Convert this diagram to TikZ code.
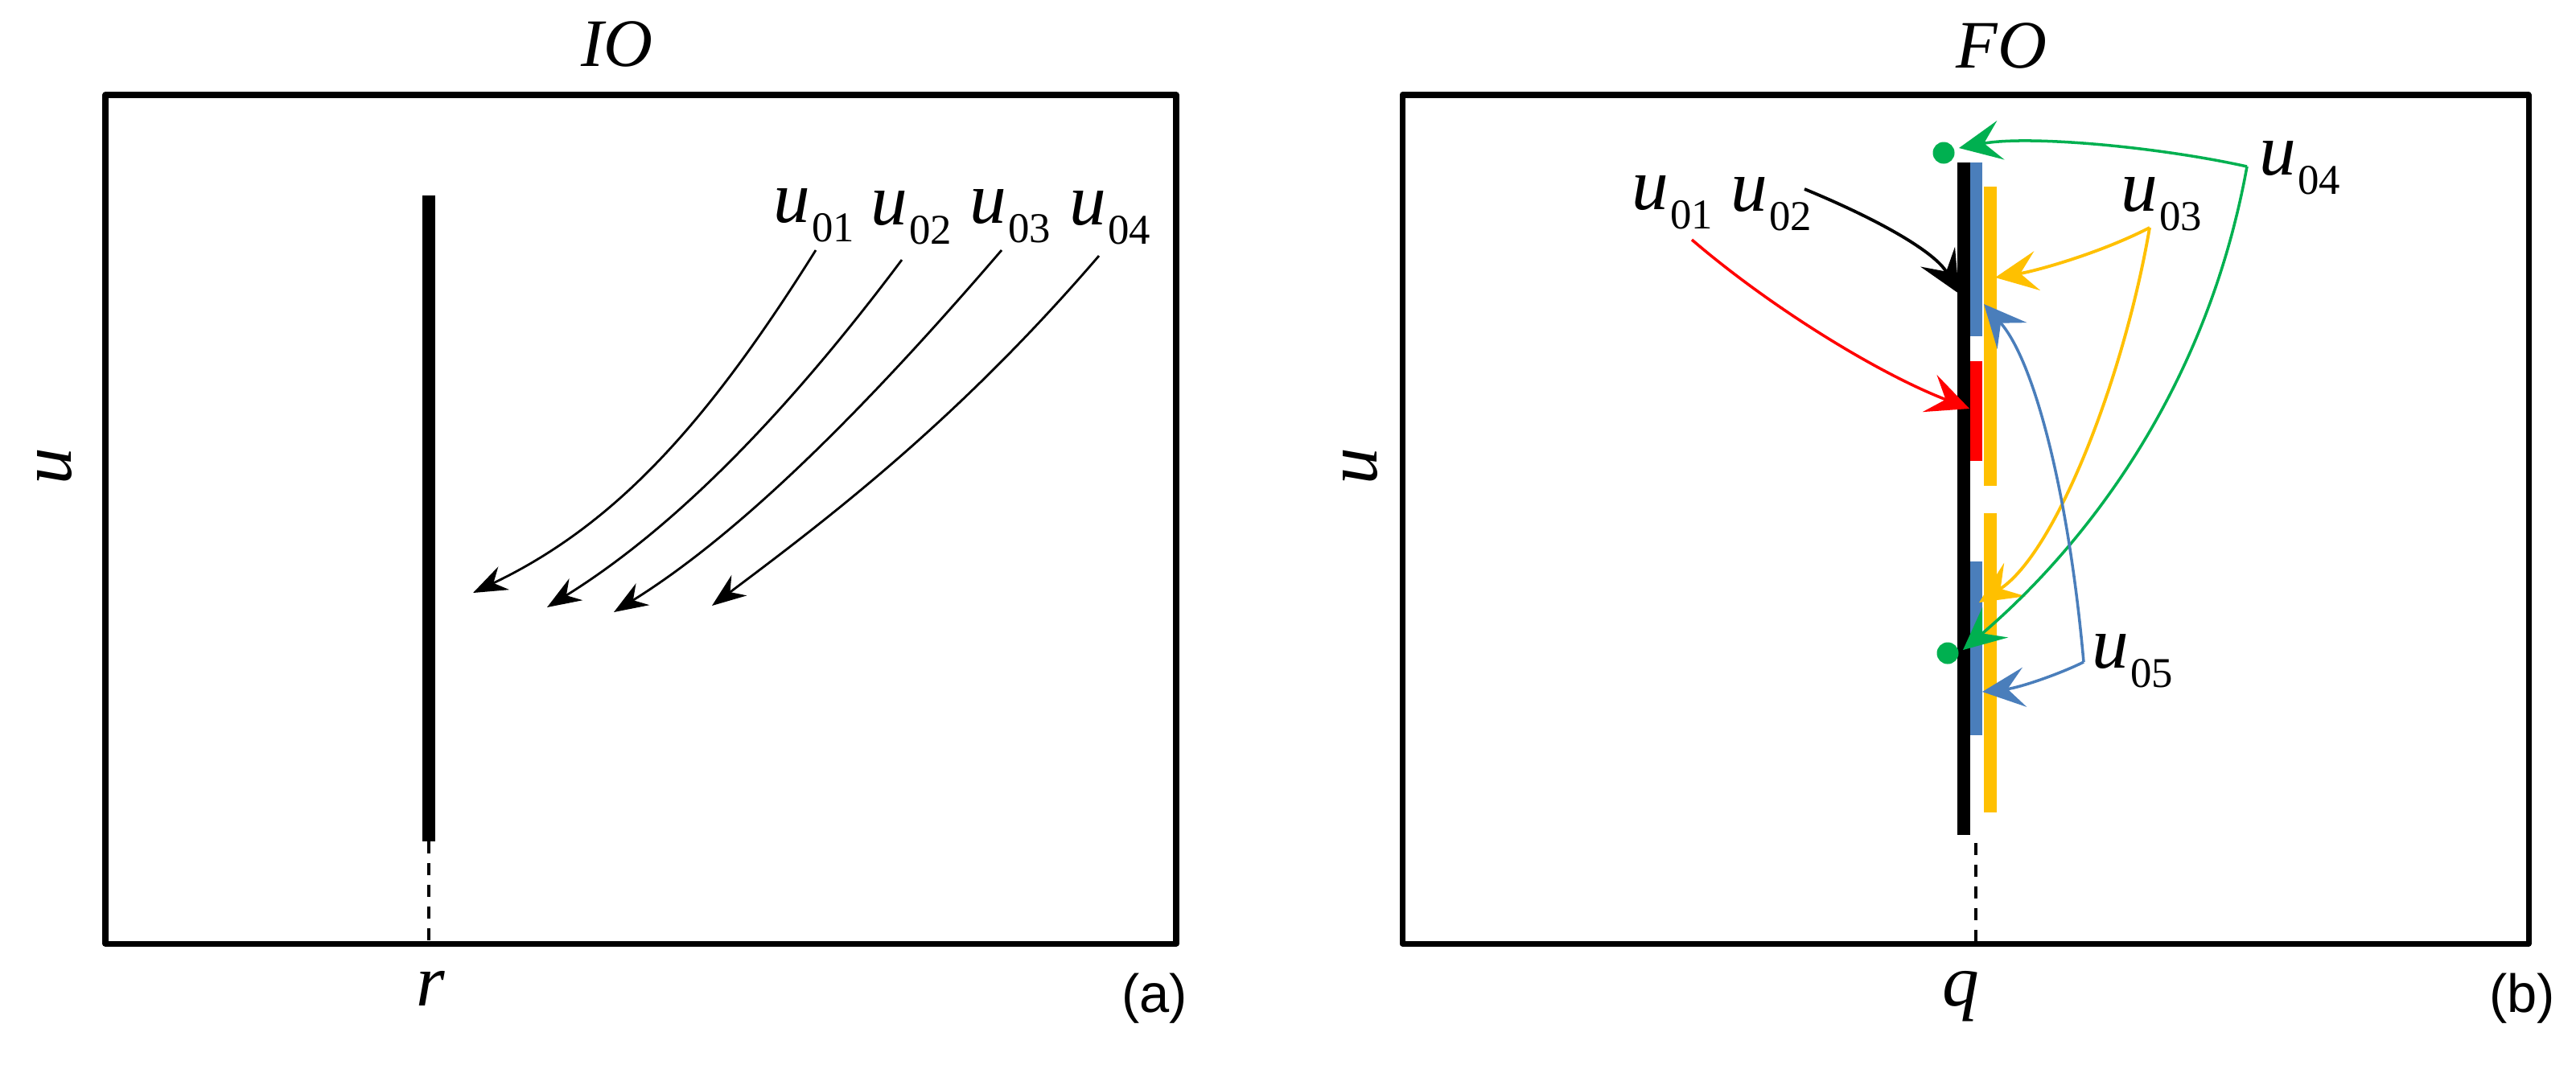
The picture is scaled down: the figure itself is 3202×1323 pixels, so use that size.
\documentclass[tikz,border=0pt]{standalone}
\usepackage{fontspec}
\setmainfont{Liberation Serif}
\newfontfamily\arialf{Liberation Sans}
\usetikzlibrary{arrows.meta}
\definecolor{cblue}{HTML}{4A7EBB}
\definecolor{cyel}{HTML}{FFC000}
\definecolor{cgreen}{HTML}{00B050}
\definecolor{cred}{HTML}{FF0000}
\newcommand\ulab[1]{\fontsize{26pt}{26pt}\selectfont\textit{u}\kern0.5pt\raisebox{-7pt}{\fontsize{15pt}{15pt}\selectfont #1}}
\begin{document}
\begin{tikzpicture}[x=0.01cm,y=-0.01cm,
  frame/.style={line width=2pt,line join=round},
  lbl/.style={inner sep=0pt,anchor=base west},
  ttl/.style={inner sep=0pt,anchor=base,font=\fontsize{24pt}{24pt}\selectfont\itshape},
  axl/.style={inner sep=0pt,font=\fontsize{26pt}{26pt}\selectfont\itshape},
  tag/.style={inner sep=0pt,font=\arialf\fontsize{19pt}{19pt}\selectfont},
  guide/.style={line width=1.1pt,dash pattern=on 4.3pt off 3.4pt},
  thin/.style={line width=0.8pt,-{Stealth[length=12pt,width=9pt,inset=4pt]}},
  col/.style={line width=1pt,-{Stealth[length=15pt,width=14pt,inset=6pt]}},
  dot/.style={circle,fill=cgreen,inner sep=0pt,minimum size=0.27cm}
]
\useasboundingbox (0,0) rectangle (3202,1323);

% ---------- panel (a) ----------
\draw[frame] (131,118) rectangle (1462,1173);
\node[ttl] (tIO) at (767,82) {IO};
\node[axl,rotate=90] (ya) at (68,580) {u};
\node[axl,anchor=base] (r) at (535,1250) {r};
\node[tag] (ta) at (1435,1241) {(a)};
\fill[black] (525,243) rectangle (541,1046);
\coordinate (rb) at (533,1046);
\coordinate (ra) at (533,1173);
\draw[guide] (rb) -- (ra);

\node[lbl] (a1) at (961,276) {\ulab{01}};
\node[lbl] (a2) at (1082,279) {\ulab{02}};
\node[lbl] (a3) at (1205,277) {\ulab{03}};
\node[lbl] (a4) at (1329,279) {\ulab{04}};
\coordinate (a1s) at (1014,311); \coordinate (a1e) at (588,737);
\coordinate (a2s) at (1121,323); \coordinate (a2e) at (680,755);
\coordinate (a3s) at (1245,311); \coordinate (a3e) at (763,761);
\coordinate (a4s) at (1366,318); \coordinate (a4e) at (885,753);
\draw[thin] (a1s) .. controls (881,523) and (768,651) .. (a1e);
\draw[thin] (a2s) .. controls (971,523) and (833,660) .. (a2e);
\draw[thin] (a3s) .. controls (1069,516) and (916,666) .. (a3e);
\draw[thin] (a4s) .. controls (1190,523) and (1029,645) .. (a4e);

% ---------- panel (b) ----------
\draw[frame] (1743,118) rectangle (3143,1173);
\node[ttl] (tFO) at (2488,84) {FO};
\node[axl,rotate=90] (yb) at (1691,580) {u};
\node[axl,anchor=base] (q) at (2437,1250) {q};
\node[tag] (tb) at (3135,1241) {(b)};

\fill[black] (2433,202) rectangle (2449,1038);
\fill[cblue] (2449,202) rectangle (2464,418);
\fill[cred]  (2449,449) rectangle (2464,573);
\fill[cblue] (2449,698) rectangle (2464,914);
\fill[cyel]  (2466,232) rectangle (2482,604);
\fill[cyel]  (2466,638) rectangle (2482,1010);
\coordinate (qb) at (2456,1048);
\coordinate (qa) at (2456,1173);
\draw[guide] (qb) -- (qa);

\node[lbl] (b1) at (2028,260) {\ulab{01}};
\node[lbl] (b2) at (2151,262) {\ulab{02}};
\node[lbl] (b3) at (2636,262) {\ulab{03}};
\node[lbl] (b4) at (2808,217) {\ulab{04}};
\node[lbl] (b5) at (2600,830) {\ulab{05}};

\coordinate (b1s) at (2103,298); \coordinate (b1e) at (2448,508);
\coordinate (b2s) at (2243,235); \coordinate (b2e) at (2435,365);
\coordinate (b3s) at (2672,283);
\coordinate (b3e) at (2480,345); \coordinate (b3f) at (2460,749);
\coordinate (b4s) at (2793,207);
\coordinate (b4e) at (2435,184); \coordinate (b4f) at (2440,808);
\coordinate (b5s) at (2590,823);
\coordinate (b5e) at (2466,378); \coordinate (b5f) at (2464,860);

\draw[col,cred] (b1s) .. controls (2202,383) and (2336,465) .. (b1e);
\draw[col,black,line width=1.1pt] (b2s) .. controls (2335,273) and (2405,313) .. (b2e);
\draw[col,cyel,line width=1.1pt] (b3s) .. controls (2610,315) and (2530,337) .. (b3e);
\draw[col,cyel,line width=1.1pt] (b3s) .. controls (2640,470) and (2555,688) .. (b3f);
\draw[col,cgreen] (b4s) .. controls (2680,182) and (2520,168) .. (b4e);
\draw[col,cgreen] (b4s) .. controls (2740,500) and (2577,691) .. (b4f);
\draw[col,cblue] (b5s) .. controls (2572,620) and (2530,450) .. (b5e);
\draw[col,cblue] (b5s) .. controls (2560,838) and (2510,855) .. (b5f);
\node[dot] (g1) at (2416,190) {};
\node[dot] (g2) at (2421,812) {};
\end{tikzpicture}
\end{document}
